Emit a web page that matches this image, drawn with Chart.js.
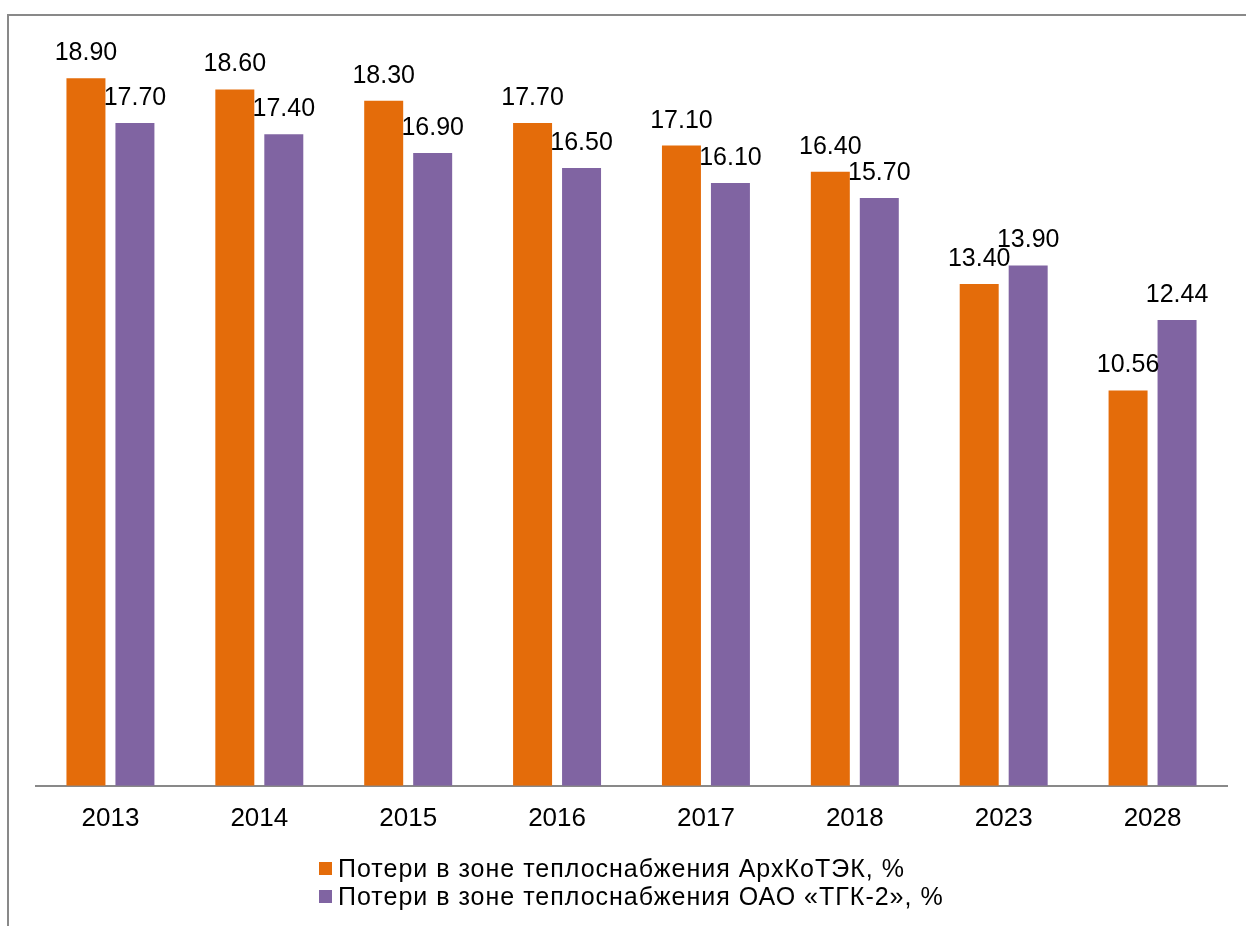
<!DOCTYPE html>
<html lang="ru">

<head>
    <meta charset="UTF-8">
    <title>Потери в зоне теплоснабжения</title>
    <script src="https://cdn.jsdelivr.net/npm/chart.js"></script>
    <style>
        html, body {
            margin: 0;
            padding: 0;
            background: #fff;
            overflow: hidden;
        }

        /* grey frame round the chart area (top + left visible) */
        .frame {
            position: absolute;
            left: 7px;
            top: 14px;
            width: 1400px;
            height: 1100px;
            border-top: 2px solid #898989;
            border-left: 2px solid #898989;
        }

        .chart-box {
            position: absolute;
            left: 0;
            top: 0;
            width: 1246px;
            height: 926px;
        }

        .legend {
            position: absolute;
            left: 319px;
            top: 854px;
            font-family: "Liberation Sans", Arial, sans-serif;
            font-size: 25px;
            letter-spacing: 1px;
            color: #000;
        }

        .legend .row {
            display: flex;
            align-items: center;
            height: 28px;
            line-height: 28px;
            white-space: nowrap;
        }

        .legend .box {
            width: 13px;
            height: 13px;
            margin-right: 6px;
        }
    </style>
</head>

<body>
    <div class="frame"></div>
    <div class="chart-box">
        <canvas id="barChart"></canvas>
    </div>
    <div class="legend" id="legend"></div>

    <script>
        const years = ['2013', '2014', '2015', '2016', '2017', '2018', '2023', '2028'];
        const lossArkhKoTEK = [18.90, 18.60, 18.30, 17.70, 17.10, 16.40, 13.40, 10.56];
        const lossTGK2 = [17.70, 17.40, 16.90, 16.50, 16.10, 15.70, 13.90, 12.44];
        const seriesNames = [
            'Потери в зоне теплоснабжения АрхКоТЭК, %',
            'Потери в зоне теплоснабжения ОАО «ТГК-2», %'
        ];
        const seriesColors = ['#E46C0A', '#8064A2'];

        const font = '"Liberation Sans", Arial, sans-serif';

        // value labels above every bar
        const valueLabels = {
            id: 'valueLabels',
            afterDatasetsDraw(chart) {
                const ctx = chart.ctx;
                ctx.save();
                ctx.font = '25px ' + font;
                ctx.fillStyle = '#000';
                ctx.textAlign = 'center';
                ctx.textBaseline = 'alphabetic';
                chart.data.datasets.forEach((ds, i) => {
                    chart.getDatasetMeta(i).data.forEach((bar, j) => {
                        ctx.fillText(ds.data[j].toFixed(2), bar.x, bar.y - 18);
                    });
                });
                ctx.restore();
            }
        };

        new Chart(document.getElementById('barChart'), {
            type: 'bar',
            data: {
                labels: years,
                datasets: [{
                    label: seriesNames[0],
                    data: lossArkhKoTEK,
                    backgroundColor: seriesColors[0],
                    categoryPercentage: 0.658,
                    barPercentage: 0.796
                }, {
                    label: seriesNames[1],
                    data: lossTGK2,
                    backgroundColor: seriesColors[1],
                    categoryPercentage: 0.658,
                    barPercentage: 0.796
                }]
            },
            options: {
                responsive: true,
                maintainAspectRatio: false,
                animation: false,
                layout: {
                    padding: { left: 36, right: 19, top: 37, bottom: 75 }
                },
                plugins: {
                    legend: { display: false },
                    tooltip: { enabled: false }
                },
                scales: {
                    x: {
                        grid: { display: false, drawTicks: false },
                        border: { display: true, color: '#898989', width: 2 },
                        ticks: {
                            color: '#000',
                            padding: 17,
                            font: { family: font, size: 26 }
                        }
                    },
                    y: {
                        display: false,
                        min: 0,
                        max: 20
                    }
                }
            },
            plugins: [valueLabels]
        });

        // legend in two rows, left aligned
        const legend = document.getElementById('legend');
        seriesNames.forEach((name, i) => {
            const row = document.createElement('div');
            row.className = 'row';
            const box = document.createElement('span');
            box.className = 'box';
            box.style.background = seriesColors[i];
            const txt = document.createElement('span');
            txt.textContent = name;
            row.appendChild(box);
            row.appendChild(txt);
            legend.appendChild(row);
        });
    </script>
</body>

</html>
